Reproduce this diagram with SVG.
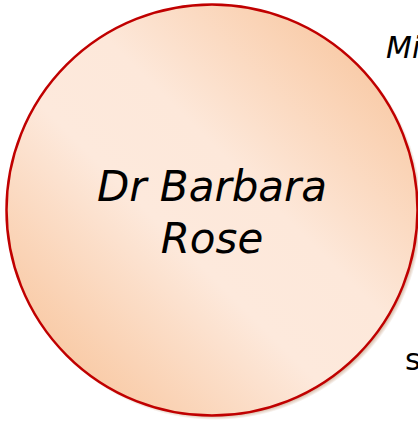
<svg xmlns="http://www.w3.org/2000/svg" width="418" height="421" viewBox="0 0 418 421">
<defs>
<linearGradient id="g" x1="0" y1="1" x2="1" y2="0">
<stop offset="0" stop-color="#F7C29A"/>
<stop offset="0.15" stop-color="#F9CCA9"/>
<stop offset="0.42" stop-color="#FDE9DC"/>
<stop offset="0.58" stop-color="#FDE8DA"/>
<stop offset="0.85" stop-color="#F9CDAB"/>
<stop offset="1" stop-color="#F7C49C"/>
</linearGradient>
<radialGradient id="shadowG">
<stop offset="0.97" stop-color="#B07850" stop-opacity="0.7"/>
<stop offset="1" stop-color="#B07850" stop-opacity="0"/>
</radialGradient>
</defs>
<style>
.lbl{font-family:"DejaVu Sans",Verdana,sans-serif;fill:#000}
.it{font-style:italic}
</style>
<rect width="418" height="421" fill="#FFFFFF"/>
<g id="labels-outside">
<text class="lbl it" x="386" y="58" font-size="30">Mi</text>
<text class="lbl" x="405" y="370" font-size="30">s</text>
</g>
<g id="node-barbara-rose">
<circle cx="215" cy="213" r="207" fill="url(#shadowG)"/>
<circle cx="212" cy="210" r="205.5" fill="url(#g)" stroke="#C00000" stroke-width="2.5"/>
<text class="lbl it" x="212" y="201" font-size="42" text-anchor="middle">Dr Barbara</text>
<text class="lbl it" x="212" y="253" font-size="42" text-anchor="middle">Rose</text>
</g>
<g id="connectors"></g>
</svg>
